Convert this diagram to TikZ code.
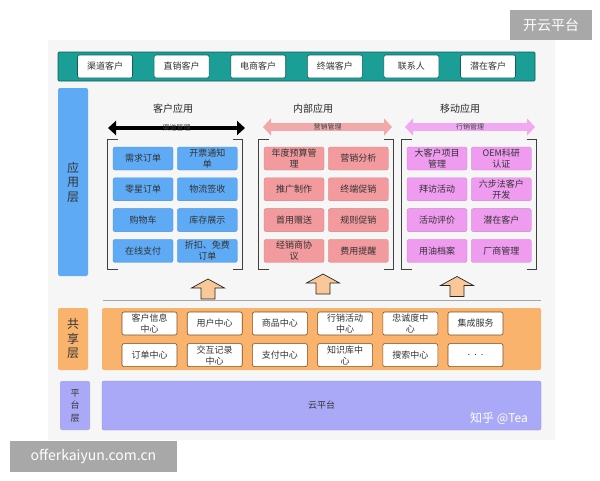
\documentclass[tikz,border=0pt]{standalone}
\usepackage{fontspec}
\setmainfont{Noto Sans CJK SC}
\usetikzlibrary{arrows.meta,positioning,fit}
\definecolor{panelFill}{HTML}{F6F6F6}
\definecolor{txt}{HTML}{333333}
\definecolor{topFill}{HTML}{1A9E96}
\definecolor{topDraw}{HTML}{0F5F5A}
\definecolor{appFill}{HTML}{5EAAF5}
\definecolor{appDraw}{HTML}{4A90DA}
\definecolor{intFill}{HTML}{F29A9E}
\definecolor{intArr}{HTML}{F2A9A9}
\definecolor{mobFill}{HTML}{EF9BEF}
\definecolor{mobArr}{HTML}{F1AAF1}
\definecolor{shareFill}{HTML}{F9B36D}
\definecolor{shareDraw}{HTML}{7A4A1E}
\definecolor{platFill}{HTML}{A9A9F7}
\definecolor{platDraw}{HTML}{9090E2}
\definecolor{upFill}{HTML}{FAC898}
\definecolor{wmFill}{HTML}{A8A8A8}
\tikzset{
  font=\fontsize{9}{11}\selectfont,
  text=txt,
  box/.style   ={draw, rounded corners=2pt, align=center, inner sep=1pt,
                 minimum width=55pt, minimum height=23pt, line width=0.6pt},
  chan/.style  ={box, fill=white, draw=topDraw},
  share/.style ={box, fill=white, draw=shareDraw},
  appbox/.style={box, minimum width=60pt, line width=0.3pt},
  custA/.style ={appbox, fill=appFill, draw=appDraw},
  intA/.style  ={appbox, fill=intFill, draw=intFill!85!black},
  mobA/.style  ={appbox, fill=mobFill, draw=mobFill!85!black},
  band/.style  ={rounded corners=2pt, inner sep=0pt},
  layer/.style ={band, align=center, minimum width=30pt,
                 font=\fontsize{12}{14.5}\selectfont},
  title/.style ={font=\fontsize{10}{12}\selectfont, text=black!85},
  wide/.style  ={line width=8pt, {Triangle[length=8pt, width=17pt]}-{Triangle[length=8pt, width=17pt]}},
  thin/.style  ={line width=4pt, {Triangle[length=8pt, width=14pt]}-{Triangle[length=8pt, width=14pt]}},
  barlabel/.style={font=\fontsize{7}{8}\selectfont, text=black!75, inner sep=0pt},
  uparr/.style ={draw=black!85, fill=upFill, line width=0.7pt, line join=miter},
  bracket/.style={draw=black!75, line width=1.1pt},
  wmbox/.style ={fill=wmFill, text=white, font=\fontsize{14}{16}\selectfont, inner sep=0pt},
}
\begin{document}
\begin{tikzpicture}[x=1pt, y=-1pt, node distance=7.5pt and 4pt]
  \useasboundingbox (0,0) rectangle (600,480);
  \fill[panelFill] (48,40) rectangle (555,440);

  % channel bar
  \node[draw=topDraw, fill=topFill, minimum width=477pt, minimum height=29pt,
        line width=0.6pt, rounded corners=1pt] (chanbar) at (296.5,66.5) {};
  \node[chan]                  (ch1) at (105,66.5) {渠道客户};
  \node[chan, right=21pt of ch1] (ch2) {直销客户};
  \node[chan, right=21pt of ch2] (ch3) {电商客户};
  \node[chan, right=21pt of ch3] (ch4) {终端客户};
  \node[chan, right=21pt of ch4] (ch5) {联系人};
  \node[chan, right=21pt of ch5] (ch6) {潜在客户};

  % layer labels
  \node[layer, fill=appFill,   minimum height=188pt] (lapp)   at (73,182)   {应\\用\\层};
  \node[layer, fill=shareFill, minimum height=62pt]  (lshare) at (73,339)   {共\\享\\层};
  \node[layer, fill=platFill,  minimum height=49pt,
        font=\fontsize{9}{12.5}\selectfont]           (lplat)  at (75,405.5) {平\\台\\层};

  % customer apps
  \node[title] (tcust) at (173,109) {客户应用};
  \coordinate (custL) at (108,128);
  \coordinate (custR) at (245,128);
  \draw[thin, black] (custL) -- node[barlabel, text=black!80] (acust) {渠道管理} (custR);
  \node[custA]                (k11) at (143,158.5) {需求订单};
  \node[custA, right=of k11]  (k12) {开票通知\\单};
  \node[custA, below=of k11]  (k21) {零星订单};
  \node[custA, right=of k21]  (k22) {物流签收};
  \node[custA, below=of k21]  (k31) {购物车};
  \node[custA, right=of k31]  (k32) {库存展示};
  \node[custA, below=of k31]  (k41) {在线支付};
  \node[custA, right=of k41]  (k42) {折扣、免费\\订单};
  \node[fit=(k11)(k42), inner xsep=5pt, inner ysep=7pt] (gcust) {};

  % internal apps
  \node[title] (tint) at (313,109) {内部应用};
  \coordinate (intL) at (263,127);
  \coordinate (intR) at (392,127);
  \draw[wide, intArr] (intL) -- node[barlabel] (aint) {营销管理} (intR);
  \node[intA]                (n11) at (294,158.5) {年度预算管\\理};
  \node[intA, right=of n11]  (n12) {营销分析};
  \node[intA, below=of n11]  (n21) {推广制作};
  \node[intA, right=of n21]  (n22) {终端促销};
  \node[intA, below=of n21]  (n31) {首用赠送};
  \node[intA, right=of n31]  (n32) {规则促销};
  \node[intA, below=of n31]  (n41) {经销商协\\议};
  \node[intA, right=of n41]  (n42) {费用提醒};
  \node[fit=(n11)(n42), inner xsep=5pt, inner ysep=7pt] (gint) {};

  % mobile apps
  \node[title] (tmob) at (460,109) {移动应用};
  \coordinate (mobL) at (405,127);
  \coordinate (mobR) at (535,127);
  \draw[wide, mobArr] (mobL) -- node[barlabel] (amob) {行销管理} (mobR);
  \node[mobA]                (m11) at (437,158.5) {大客户项目\\管理};
  \node[mobA, right=of m11]  (m12) {OEM科研\\认证};
  \node[mobA, below=of m11]  (m21) {拜访活动};
  \node[mobA, right=of m21]  (m22) {六步法客户\\开发};
  \node[mobA, below=of m21]  (m31) {活动评价};
  \node[mobA, right=of m31]  (m32) {潜在客户};
  \node[mobA, below=of m31]  (m41) {用油档案};
  \node[mobA, right=of m41]  (m42) {厂商管理};
  \node[fit=(m11)(m42), inner xsep=5pt, inner ysep=7pt] (gmob) {};

  \foreach \g in {gcust, gint, gmob} {
    \draw[bracket] ([xshift=10pt]\g.north west) -- (\g.north west)
                   -- (\g.south west) -- ([xshift=10pt]\g.south west);
    \draw[bracket] ([xshift=-10pt]\g.north east) -- (\g.north east)
                   -- (\g.south east) -- ([xshift=-10pt]\g.south east);
  }

  % up arrows and separator
  \coordinate (up1) at (208,299);
  \coordinate (up2) at (323,294);
  \coordinate (up3) at (457,296.5);
  \foreach \u in {up1, up2, up3}
    \draw[uparr] (\u) ++(-7,0) -- ++(0,-11) -- ++(-9.5,0) -- ++(16.5,-9)
                 -- ++(16.5,9) -- ++(-9.5,0) -- ++(0,11) -- cycle;
  \coordinate (sepL) at (103,300);
  \coordinate (sepR) at (541,300);
  \draw[black!35, line width=0.8pt] (sepL) -- (sepR);

  % shared layer
  \node[band, fill=shareFill, minimum width=439pt, minimum height=62pt] (sharebar) at (321.5,339) {};
  \node[share]                    (s11) at (149.5,323.5) {客户信息\\中心};
  \node[share, right=9.6pt of s11] (s12) {用户中心};
  \node[share, right=9.6pt of s12] (s13) {商品中心};
  \node[share, right=9.6pt of s13] (s14) {行销活动\\中心};
  \node[share, right=9.6pt of s14] (s15) {忠诚度中\\心};
  \node[share, right=9.6pt of s15] (s16) {集成服务};
  \node[share, below=8pt of s11]   (s21) {订单中心};
  \node[share, right=9.6pt of s21] (s22) {交互记录\\中心};
  \node[share, right=9.6pt of s22] (s23) {支付中心};
  \node[share, right=9.6pt of s23] (s24) {知识库中\\心};
  \node[share, right=9.6pt of s24] (s25) {搜索中心};
  \node[share, right=9.6pt of s25] (s26) {.\ \ .\ \ .};

  % platform layer
  \node[band, fill=platFill, draw=platDraw, line width=0.3pt,
        minimum width=439pt, minimum height=49pt] (cloud) at (321.5,405.5) {云平台};
  \node[text=white, font=\fontsize{12}{14}\selectfont] (zhihu) at (499,418) {知乎 @Tea};

  % watermarks
  \node[wmbox, minimum width=82pt, minimum height=30pt]  (wmtop) at (551,25)    {开云平台};
  \node[wmbox, minimum width=167pt, minimum height=31pt] (wmbot) at (93.5,456.5) {offerkaiyun.com.cn};
\end{tikzpicture}
\end{document}
